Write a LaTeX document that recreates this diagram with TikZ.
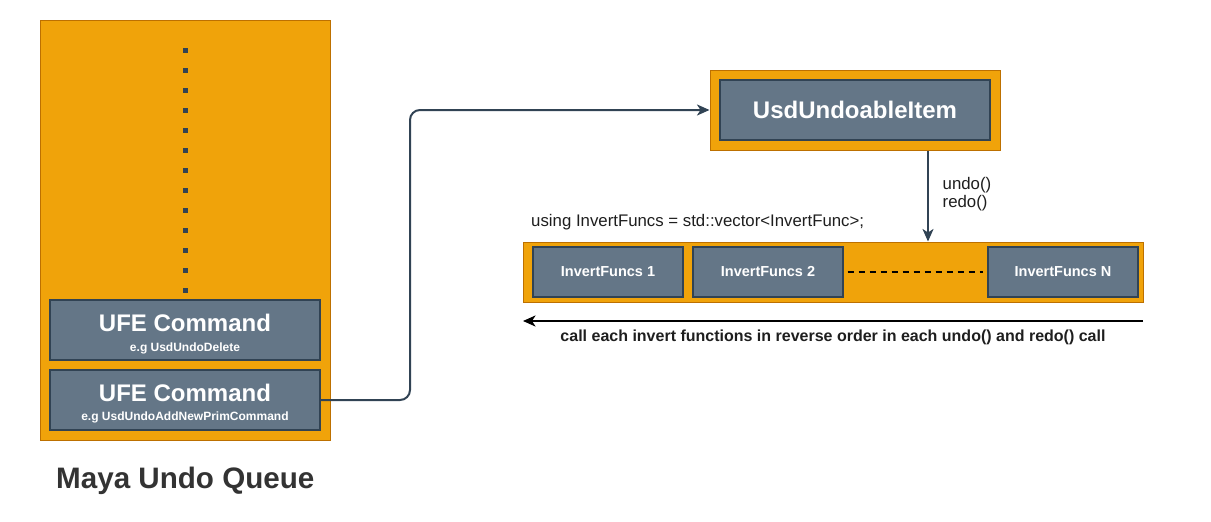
\documentclass[tikz,border=0pt]{standalone}
\usepackage{fontspec}
\setmainfont{Liberation Sans}
\usetikzlibrary{arrows.meta,calc}
\definecolor{orfill}{HTML}{F0A30A}
\definecolor{ordraw}{HTML}{BD7000}
\definecolor{gyfill}{HTML}{647687}
\definecolor{gydraw}{HTML}{314354}
\definecolor{txtdark}{HTML}{1E1E1E}
\definecolor{txtgray}{HTML}{333333}
\tikzset{
  orbox/.style={draw=ordraw, fill=orfill, line width=1pt, inner sep=0pt},
  gybox/.style={draw=gydraw, fill=gyfill, line width=1.2pt, inner sep=0pt, text=white},
  bigtxt/.style={inner sep=0pt, text=white, font=\fontsize{24}{28}\selectfont\bfseries},
  smalltxt/.style={inner sep=0pt, text=white, font=\fontsize{12}{14}\selectfont\bfseries},
  iftxt/.style={font=\fontsize{14.5}{17}\selectfont\bfseries},
  plaintxt/.style={inner sep=0pt, text=txtdark, font=\fontsize{16.8}{18}\selectfont},
  tip/.style={-{Stealth[length=12.5pt,width=11pt,inset=3.5pt]}},
  conn/.style={draw=gydraw, line width=2pt, tip},
}
\begin{document}
\begin{tikzpicture}[x=1pt,y=-1pt]
\useasboundingbox (0,0) rectangle (1211,522);
% left queue
\node[orbox, minimum width=290pt, minimum height=420pt] (queue) at (185,230) {};
\foreach \k in {0,...,12}
  \fill[gydraw] ($(queue.north)+(-2.2,28+20*\k)$) rectangle ++(5,5);
\node[gybox, minimum width=270pt, minimum height=60pt] (ufeA) at (185,330) {};
\node[gybox, minimum width=270pt, minimum height=60pt] (ufeB) at (185,400) {};
\node[bigtxt, anchor=base] (ufeAt) at ($(ufeA.center)+(0,1)$) {UFE Command};
\node[smalltxt, anchor=base] (ufeAs) at ($(ufeA.center)+(0,21)$) {e.g UsdUndoDelete};
\node[bigtxt, anchor=base] (ufeBt) at ($(ufeB.center)+(0,1)$) {UFE Command};
\node[smalltxt, anchor=base] (ufeBs) at ($(ufeB.center)+(0,20.5)$) {e.g UsdUndoAddNewPrimCommand};
\node[inner sep=0pt, anchor=west, text=txtgray, font=\fontsize{29.6}{34}\selectfont\bfseries] (qlabel) at (56,481) {Maya Undo Queue};
% undoable item
\node[orbox, minimum width=290pt, minimum height=80pt] (undoOut) at (855,110) {};
\node[gybox, minimum width=270pt, minimum height=60pt, font=\fontsize{24}{28}\selectfont\bfseries] (undoIn) at (855,110) {UsdUndoableItem};
% connector from queue to undoable item
\coordinate (bendx) at (410,0);
\draw[conn, rounded corners=10pt] (ufeB.east) -- (ufeB.east -| bendx) -- (bendx |- undoOut.west) -- (undoOut.west);
% row of invert funcs
\node[orbox, minimum width=620pt, minimum height=60pt] (row) at (833,272) {};
\node[gybox, iftxt, minimum width=150pt, minimum height=50pt] (if1) at (608,272) {InvertFuncs 1};
\node[gybox, iftxt, minimum width=150pt, minimum height=50pt] (if2) at (768,272) {InvertFuncs 2};
\node[gybox, iftxt, minimum width=150pt, minimum height=50pt] (ifN) at (1063,272) {InvertFuncs N};
\draw[black, line width=1.5pt, dash pattern=on 6pt off 5pt, shorten <=4pt, shorten >=4pt] (if2.east) -- (ifN.west);
% undo/redo arrow
\coordinate (dnx) at (928,0);
\draw[conn] (undoOut.south -| dnx) -- (row.north -| dnx);
\node[plaintxt, anchor=north west, align=left] (undolbl) at (942.5,177.5) {undo()\\redo()};
\node[plaintxt, anchor=west] (usinglbl) at (531,222) {using InvertFuncs = std::vector<InvertFunc>;};
% bottom arrow
\coordinate (arrR) at (1143,321);
\coordinate (arrL) at (523,321);
\draw[black, line width=2pt, tip] (arrR) -- (arrL);
\node[inner sep=0pt, text=txtdark, font=\fontsize{16}{19}\selectfont\bfseries] (calllbl) at (833,337) {call each invert functions in reverse order in each undo() and redo() call};
\end{tikzpicture}
\end{document}
